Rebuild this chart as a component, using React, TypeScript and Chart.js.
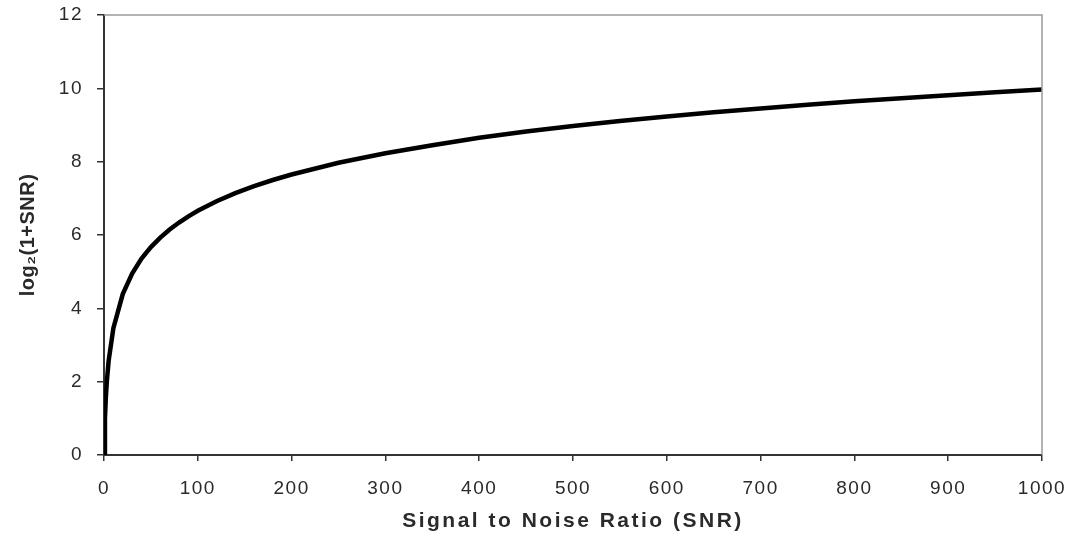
import React, { useEffect, useRef } from "react";
import { Chart, registerables } from "chart.js";

Chart.register(...registerables);

const snrValues = [0, 1, 2, 3, 5, 10, 20, 30, 40, 50, 60, 70, 80, 90, 100, 120, 140, 160, 180, 200, 250, 300, 350, 400, 450, 500, 550, 600, 650, 700, 750, 800, 850, 900, 950, 1000];
const capacityValues = [0, 1.0, 1.58, 2.0, 2.58, 3.46, 4.39, 4.95, 5.36, 5.67, 5.93, 6.15, 6.34, 6.51, 6.66, 6.92, 7.14, 7.33, 7.5, 7.65, 7.97, 8.23, 8.45, 8.65, 8.82, 8.97, 9.11, 9.23, 9.35, 9.45, 9.55, 9.65, 9.73, 9.81, 9.89, 9.97];

const xTitle = "Signal to Noise Ratio (SNR)";
const yTitle = "log\u2082(1+SNR)";

const frameColor = "#9a9a9a";
const axisColor = "#333333";
const textColor = "#2a2a2a";
const fontFamily = "'Liberation Sans', Arial, sans-serif";

const framePlugin = {
  id: "frame",
  afterDraw(chart: any) {
    const { ctx, chartArea } = chart;
    ctx.save();
    ctx.strokeStyle = frameColor;
    ctx.lineWidth = 1.5;
    ctx.beginPath();
    ctx.moveTo(chartArea.left, chartArea.top);
    ctx.lineTo(chartArea.right, chartArea.top);
    ctx.lineTo(chartArea.right, chartArea.bottom);
    ctx.stroke();
    ctx.restore();
  },
};

function patchSpacing(scale: any, titleSpacing: string, labelSpacing: string) {
  if (scale.__spacingPatched) return;
  scale.__spacingPatched = true;
  const origTitle = scale.drawTitle;
  const origLabels = scale.drawLabels;
  scale.drawTitle = function (...args: any[]) {
    const ctx = this.ctx;
    const prev = ctx.letterSpacing;
    ctx.letterSpacing = titleSpacing;
    origTitle.apply(this, args);
    ctx.letterSpacing = prev || "0px";
  };
  scale.drawLabels = function (...args: any[]) {
    const ctx = this.ctx;
    const prev = ctx.letterSpacing;
    ctx.letterSpacing = labelSpacing;
    origLabels.apply(this, args);
    ctx.letterSpacing = prev || "0px";
  };
}

export default function App() {
  const ref = useRef<HTMLCanvasElement | null>(null);

  useEffect(() => {
    document.body.style.margin = "0";
    if (!ref.current) return;
    const chart = new Chart(ref.current, {
      type: "line",
      data: {
        datasets: [
          {
            data: snrValues.map((x, i) => ({ x, y: capacityValues[i] })),
            borderColor: "#000000",
            borderWidth: 4.5,
            pointRadius: 0,
            tension: 0,
            fill: false,
          },
        ],
      },
      options: {
        animation: false,
        responsive: false,
        maintainAspectRatio: false,
        layout: { padding: { top: 15, right: 37, left: 0, bottom: 0 } },
        plugins: { legend: { display: false }, tooltip: { enabled: false } },
        scales: {
          x: {
            type: "linear",
            min: 0,
            max: 1000,
            afterFit(scale: any) {
              scale.height = 83;
              scale.paddingLeft = 0;
              scale.paddingRight = 0;
            },
            afterUpdate(scale: any) {
              patchSpacing(scale, "2.5px", "1.5px");
            },
            ticks: {
              stepSize: 100,
              color: textColor,
              padding: 16,
              maxRotation: 0,
              callback: (v: any) => String(v),
              font: { family: fontFamily, size: 19 },
            },
            grid: { display: true, drawOnChartArea: false, drawTicks: true, tickLength: 6, color: axisColor, lineWidth: 1.5 },
            border: { display: true, color: axisColor, width: 2 },
            title: {
              display: true,
              text: xTitle,
              color: textColor,
              padding: { top: 0, bottom: 4 },
              font: { family: fontFamily, size: 21, weight: "bold" },
            },
          },
          y: {
            type: "linear",
            min: 0,
            max: 12,
            afterFit(scale: any) {
              scale.width = 104;
              scale.paddingTop = 0;
              scale.paddingBottom = 0;
            },
            afterUpdate(scale: any) {
              patchSpacing(scale, "0.5px", "1.5px");
            },
            ticks: {
              stepSize: 2,
              color: textColor,
              padding: 14,
              callback: (v: any) => String(v),
              font: { family: fontFamily, size: 19 },
            },
            grid: { display: true, drawOnChartArea: false, drawTicks: true, tickLength: 7, color: axisColor, lineWidth: 1.5 },
            border: { display: true, color: axisColor, width: 2 },
            title: {
              display: true,
              text: yTitle,
              color: textColor,
              padding: { top: 16, bottom: 0 },
              font: { family: fontFamily, size: 20, weight: "bold" },
            },
          },
        },
      },
      plugins: [framePlugin],
    });
    return () => chart.destroy();
  }, []);

  return (
    <div style={{ position: "absolute", left: 0, top: 0, width: 1079, height: 538 }}>
      <canvas ref={ref} width={1079} height={538} style={{ width: 1079, height: 538 }} />
    </div>
  );
}
